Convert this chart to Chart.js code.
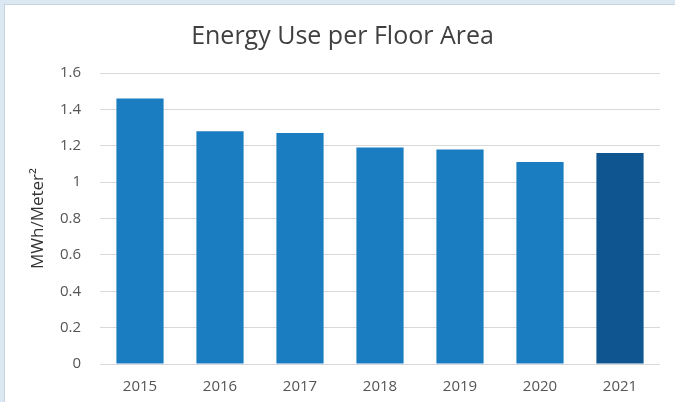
<!DOCTYPE html>
<html>
<head>
<meta charset="utf-8">
<script src="https://cdn.jsdelivr.net/npm/chart.js@4/dist/chart.umd.min.js"></script>
<style>
  html, body { margin: 0; padding: 0; }
  body { width: 675px; height: 402px; background: #dbe8f4; position: relative; overflow: hidden; }
  #panel {
    position: absolute; left: 4px; top: 4px; width: 671px; height: 398px;
    background: #fff; border-left: 1px solid #c9d3dc; border-top: 1px solid #c9d3dc;
  }
  #chart { display: block; }
</style>
</head>
<body>
<div id="panel"><canvas id="chart" width="670" height="397"></canvas></div>
<script>
const years = ["2015", "2016", "2017", "2018", "2019", "2020", "2021"];
const energyPerArea = [1.46, 1.28, 1.27, 1.19, 1.18, 1.11, 1.16];
const yTickLabels = ["0", "0.2", "0.4", "0.6", "0.8", "1", "1.2", "1.4", "1.6"];

const barColor = "#1a7dc1";
const lastBarColor = "#0f5590";
const fontFamily = "'Open Sans', 'Noto Sans', sans-serif";

const canvas = document.getElementById("chart");

const chart = new Chart(canvas, {
  type: "bar",
  data: {
    labels: years,
    datasets: [{
      label: "MWh/Meter²",
      data: energyPerArea,
      backgroundColor: years.map((y, i) => i === years.length - 1 ? lastBarColor : barColor),
      categoryPercentage: 1,
      barPercentage: 0.59
    }]
  },
  options: {
    responsive: false,
    animation: false,
    devicePixelRatio: 1,
    layout: { padding: { left: 20, right: 15, top: 0, bottom: 0 } },
    plugins: {
      legend: { display: false },
      tooltip: { enabled: false },
      title: {
        display: true,
        text: "Energy Use per Floor Area",
        color: "#404040",
        font: { family: fontFamily, size: 25, weight: "normal" },
        padding: { top: 17, bottom: 21 }
      }
    },
    scales: {
      x: {
        grid: { display: false },
        border: { display: false },
        ticks: { color: "#555555", font: { family: fontFamily, size: 15 }, padding: 6 },
        afterFit: scale => { scale.height = 38; }
      },
      y: {
        min: 0,
        max: 1.6,
        ticks: {
          stepSize: 0.2,
          color: "#555555",
          font: { family: fontFamily, size: 15 },
          padding: 19,
          callback: (v, i) => yTickLabels[i]
        },
        grid: { color: "#d9d9d9", lineWidth: 1, drawTicks: false },
        border: { display: false },
        title: {
          display: true,
          text: "MWh/Meter²",
          color: "#333333",
          font: { family: fontFamily, size: 17 },
          padding: { top: 3, bottom: 0 }
        },
        afterFit: scale => { scale.width = 75; }
      }
    }
  }
});
</script>
</body>
</html>
